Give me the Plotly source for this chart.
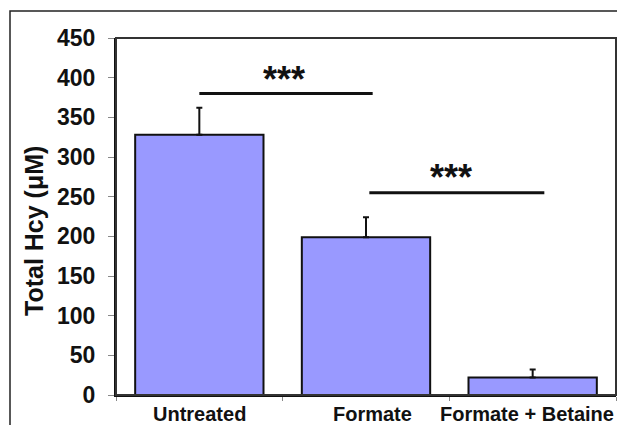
import plotly.graph_objects as go

categories = ["Untreated", "Formate", "Formate + Betaine"]
values = [328, 199, 22]
errors_up = [34, 25, 10]
errors_down = [0, 0, 0]

# significance brackets: (x start, x end, y of line, y of stars label)
sig_x0 = [0.0, 1.02]
sig_x1 = [1.04, 2.07]
sig_y = [380, 255]
sig_label_x = [0.51, 1.51]
sig_label_y = [398, 274]
sig_labels = ["***", "***"]

FONT = "Arial, 'Liberation Sans', sans-serif"

# page body has an 8px margin, so the figure is sized to fit the window
W, H = 617, 417
L, R, T, B = 108, 9, 30, 30
pw, ph = W - L - R, H - T - B
label_shift = [0, 6, -6]  # pixel nudges of category labels, as in the original

def px(x):  # window x pixel -> paper
    return (x - 8 - L) / pw

def py(y):  # window y pixel -> paper
    return (H - B - (y - 8)) / ph

fig = go.Figure()
fig.add_trace(go.Bar(
    x=categories, y=values, width=0.77,
    marker=dict(color="#9999FF", line=dict(color="#111111", width=2)),
    error_y=dict(type="data", symmetric=False, array=errors_up, arrayminus=errors_down,
                 color="#111111", thickness=2, width=3),
    showlegend=False,
))

shapes = []
for x0, x1, y in zip(sig_x0, sig_x1, sig_y):
    shapes.append(dict(type="line", xref="x", yref="y", x0=x0, x1=x1, y0=y, y1=y,
                       line=dict(color="#111111", width=3)))
# plot border (top / right)
shapes.append(dict(type="rect", xref="paper", yref="paper", x0=0, x1=1, y0=0, y1=1,
                   line=dict(color="#333333", width=2), layer="above"))
# outer frame of the figure
shapes.append(dict(type="rect", xref="paper", yref="paper", x0=px(10), x1=px(640), y0=py(440), y1=py(11),
                   line=dict(color="#222222", width=1.5)))

annotations = []
for x, y, t in zip(sig_label_x, sig_label_y, sig_labels):
    annotations.append(dict(x=x, y=y, xref="x", yref="y", text=t, showarrow=False,
                            font=dict(family=FONT, size=36, color="#111111", weight="bold"),
                            xanchor="center", yanchor="middle"))
for c, s in zip(categories, label_shift):
    annotations.append(dict(x=c, y=0, xref="x", yref="paper", text=c, showarrow=False,
                            xshift=s, yshift=-6, xanchor="center", yanchor="top",
                            font=dict(family=FONT, size=20, color="#111111", weight="bold")))
annotations.append(dict(x=px(34), y=py(231), xref="paper", yref="paper", text="Total Hcy (μM)",
                        textangle=-90, showarrow=False,
                        font=dict(family=FONT, size=25, color="#111111", weight="bold"),
                        xanchor="center", yanchor="middle"))

fig.update_layout(
    width=W, height=H,
    margin=dict(l=L, r=R, t=T, b=B, autoexpand=False),
    paper_bgcolor="white", plot_bgcolor="white",
    shapes=shapes, annotations=annotations,
    xaxis=dict(type="category", range=[-0.5, 2.5], showgrid=False, automargin=False,
               showline=True, linecolor="#111111", linewidth=2, showticklabels=False,
               ticks="outside", tickson="boundaries", ticklen=4, tickcolor="#888888"),
    yaxis=dict(range=[0, 450], dtick=50, showgrid=False, zeroline=False, automargin=False,
               showline=True, linecolor="#111111", linewidth=2,
               ticks="outside", ticklen=6, tickcolor="#888888", ticklabelstandoff=8,
               tickfont=dict(family=FONT, size=23, color="#111111", weight="bold")),
)

fig.write_html("out.html")
